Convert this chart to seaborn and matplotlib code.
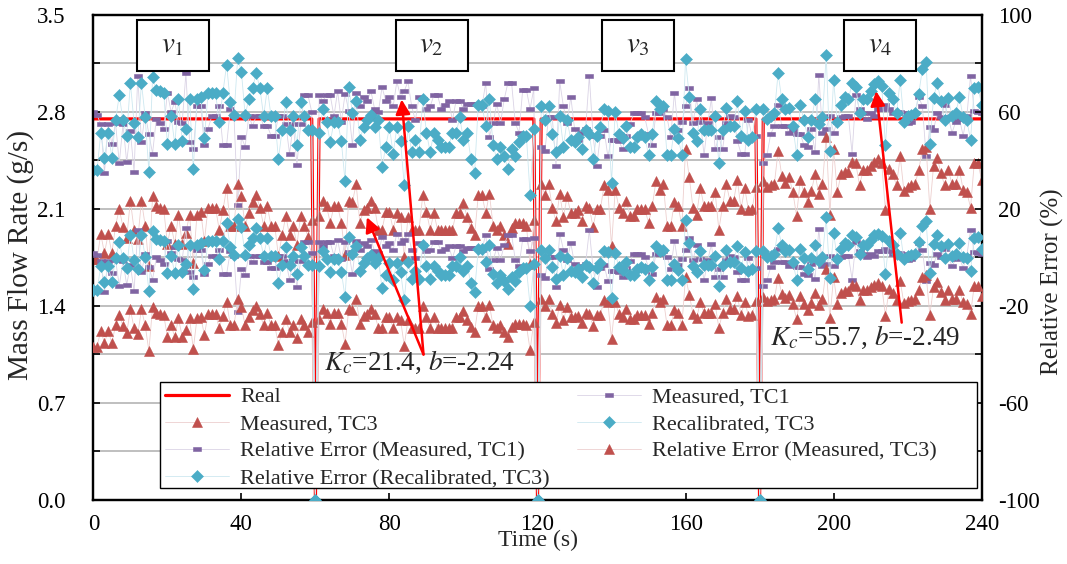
import numpy as np
import matplotlib
matplotlib.use("Agg")
import matplotlib.pyplot as plt
from matplotlib.patches import Rectangle
from matplotlib.ticker import MultipleLocator, FormatStrFormatter
import seaborn as sns

# ── Style ──────────────────────────────────────────────
sns.set_style("white")
plt.rcParams.update({
    "font.family": ["Liberation Serif", "DejaVu Serif"],
    "mathtext.fontset": "stix",
    "font.size": 16,
    "axes.unicode_minus": False,
})

RED = "#FF0000"
TC1_COLOR = "#8064A2"
TC3_COLOR = "#C0504D"
REC_COLOR = "#4BACC6"
TC1_LINE = "#DAD3E5"
TC3_LINE = "#EDCFCE"
REC_LINE = "#CDE8F0"

# ── Data (1 s samples, flow stops at 60/120/180 s) ─────
TIME_END = 240
REAL_RATE = 2.75          # g/s
STOP_TIMES = [60, 120, 180]

measured_tc1 = [
    [2.80, 2.78, 2.71, 2.36, 2.71, 2.57, 2.72, 2.43, 2.71, 2.44,
     2.66, 2.37, 3.06, 2.58, 2.79, 2.64, 2.50, 2.75, 2.72, 2.68,
     2.94, 2.80, 2.87, 2.73, 2.72, 3.08, 2.58, 2.53, 2.84, 2.84,
     2.56, 2.68, 2.77, 2.77, 2.84, 2.56, 2.56, 2.82, 2.77, 2.13,
     2.62, 2.55, 2.77, 2.70, 2.77, 2.77, 2.70, 2.70, 2.63, 2.63,
     2.77, 2.77, 2.71, 2.50, 2.71, 2.42, 2.71, 2.92, 2.92, 2.80],
    [2.92, 2.88, 2.92, 2.92, 2.77, 2.95, 2.73, 2.93, 2.81, 2.56,
     2.94, 2.84, 2.91, 2.88, 2.95, 2.82, 2.80, 2.98, 2.88, 2.91,
     2.84, 3.02, 2.91, 2.95, 3.02, 2.84, 2.74, 2.91, 2.89, 2.82,
     2.84, 2.92, 2.92, 2.82, 2.85, 2.88, 2.74, 2.88, 2.88, 2.82,
     2.86, 2.86, 2.86, 2.86, 2.84, 3.01, 2.62, 2.72, 2.86, 2.72,
     2.89, 3.01, 3.01, 2.72, 2.65, 2.96, 2.96, 2.82, 2.97],
    [2.55, 2.52, 2.76, 2.76, 2.41, 3.02, 2.84, 2.72, 2.91, 2.68,
     2.60, 2.65, 2.68, 3.06, 2.63, 2.41, 2.63, 2.67, 2.48, 2.60,
     2.60, 2.59, 2.53, 2.63, 2.71, 2.79, 2.79, 2.79, 2.76, 2.64,
     2.56, 2.79, 2.79, 2.82, 2.76, 2.62, 2.94, 2.67, 2.73, 2.84,
     2.97, 2.72, 2.89, 2.73, 2.49, 2.72, 2.90, 2.53, 2.62, 2.53,
     2.72, 2.77, 2.76, 2.59, 2.50, 2.50, 2.74, 2.62, 2.63],
    [2.43, 2.49, 2.64, 2.70, 2.85, 2.70, 2.70, 2.65, 2.67, 2.64,
     2.64, 2.56, 2.55, 2.68, 2.51, 3.07, 2.65, 2.68, 2.77, 2.65,
     2.73, 2.76, 2.77, 2.77, 2.50, 2.92, 2.82, 2.79, 2.75, 2.79,
     2.77, 2.82, 2.82, 2.85, 2.82, 2.79, 2.79, 2.80, 2.79, 2.72,
     2.73, 2.79, 2.91, 2.84, 2.48, 2.69, 2.67, 2.79, 2.76, 2.85,
     2.76, 2.65, 2.73, 2.75, 2.63, 2.77, 3.06, 2.81, 2.80, 2.79],
]

measured_tc3 = [
    [1.74, 1.74, 1.92, 1.78, 1.92, 1.78, 1.98, 2.10, 1.97, 1.89,
     2.16, 1.95, 1.88, 2.16, 1.98, 1.69, 2.19, 2.12, 2.11, 2.10,
     1.85, 1.98, 1.85, 2.06, 1.85, 1.93, 2.06, 1.71, 2.06, 2.08,
     1.87, 2.11, 2.11, 2.11, 1.95, 2.09, 2.25, 1.98, 1.98, 2.28,
     2.19, 1.98, 2.07, 2.15, 2.20, 2.11, 1.98, 2.12, 1.98, 1.98,
     1.76, 1.91, 2.05, 1.91, 1.98, 1.84, 2.05, 1.98, 1.90, 2.02],
    [2.05, 2.16, 2.12, 2.00, 2.12, 2.12, 2.00, 1.77, 2.16, 2.15,
     2.28, 2.00, 2.09, 2.11, 2.16, 2.11, 1.95, 1.95, 2.08, 2.08,
     1.95, 2.07, 2.04, 1.75, 2.04, 1.95, 1.95, 1.95, 2.20, 2.08,
     1.95, 2.07, 1.95, 1.95, 1.95, 1.95, 1.95, 2.07, 2.07, 2.14,
     2.04, 1.96, 1.91, 2.20, 2.20, 2.07, 2.21, 1.98, 1.95, 1.98,
     1.91, 1.85, 1.96, 2.00, 2.00, 2.00, 1.98, 1.70, 2.02],
    [2.28, 2.20, 2.28, 2.11, 2.01, 2.21, 2.04, 2.19, 2.07, 2.07,
     2.09, 2.01, 2.12, 2.11, 1.97, 2.10, 2.10, 2.27, 2.24, 1.83,
     2.24, 2.11, 2.07, 2.16, 2.05, 2.05, 2.10, 2.10, 2.10, 2.00,
     2.12, 2.30, 2.24, 2.28, 1.98, 1.98, 2.15, 2.12, 1.98, 2.53,
     2.33, 2.11, 2.06, 2.25, 2.12, 2.12, 2.12, 2.22, 1.95, 2.12,
     2.28, 2.16, 2.16, 2.31, 2.10, 2.25, 2.09, 2.10, 2.26],
    [2.30, 2.26, 2.27, 2.28, 2.52, 2.34, 2.29, 2.33, 2.22, 2.05,
     2.31, 2.22, 2.15, 2.23, 2.35, 2.21, 2.28, 2.62, 2.06, 2.53,
     2.22, 2.35, 2.37, 2.37, 2.44, 2.43, 2.27, 2.38, 2.38, 2.41,
     2.44, 2.46, 2.43, 2.09, 2.39, 2.35, 2.27, 2.48, 2.23, 2.26,
     2.27, 2.28, 2.38, 2.53, 2.55, 2.10, 2.41, 2.47, 2.36, 2.27,
     2.38, 2.28, 2.28, 2.38, 2.24, 2.22, 2.11, 2.43, 2.43, 2.31],
]

recalibrated_tc3 = [
    [2.38, 2.38, 2.65, 2.47, 2.65, 2.47, 2.74, 2.92, 2.74, 2.63,
     3.01, 2.72, 2.62, 3.01, 2.76, 2.37, 3.05, 2.96, 2.95, 2.94,
     2.57, 2.77, 2.57, 2.89, 2.59, 2.68, 2.89, 2.39, 2.89, 2.91,
     2.61, 2.94, 2.94, 2.94, 2.73, 2.94, 3.14, 2.87, 2.78, 3.19,
     3.09, 2.78, 2.89, 2.97, 3.08, 2.97, 2.77, 2.97, 2.77, 2.77,
     2.46, 2.67, 2.87, 2.67, 2.77, 2.56, 2.87, 2.77, 2.67, 2.67],
    [2.65, 2.82, 2.73, 2.58, 2.73, 2.73, 2.59, 2.30, 2.98, 2.79,
     2.88, 2.60, 2.69, 2.74, 2.78, 2.69, 2.74, 2.40, 2.55, 2.69,
     2.50, 2.69, 2.59, 2.27, 2.70, 2.51, 2.60, 2.51, 2.89, 2.65,
     2.51, 2.65, 2.60, 2.55, 2.55, 2.55, 2.65, 2.65, 2.76, 2.60,
     2.65, 2.46, 2.36, 2.85, 2.85, 2.70, 2.89, 2.56, 2.46, 2.55,
     2.48, 2.39, 2.53, 2.48, 2.58, 2.63, 2.63, 2.20, 2.68],
    [2.84, 2.74, 2.84, 2.64, 2.51, 2.77, 2.55, 2.74, 2.60, 2.58,
     2.62, 2.53, 2.67, 2.64, 2.46, 2.63, 2.69, 2.82, 2.81, 2.29,
     2.80, 2.64, 2.61, 2.70, 2.55, 2.55, 2.62, 2.64, 2.62, 2.49,
     2.64, 2.88, 2.82, 2.84, 2.49, 2.49, 2.68, 2.61, 2.49, 3.18,
     2.91, 2.65, 2.59, 2.82, 2.67, 2.67, 2.67, 2.77, 2.43, 2.67,
     2.83, 2.70, 2.70, 2.88, 2.63, 2.81, 2.60, 2.62, 2.82],
    [2.82, 2.75, 2.77, 2.79, 3.08, 2.89, 2.82, 2.83, 2.70, 2.49,
     2.85, 2.74, 2.62, 2.74, 2.89, 2.71, 2.76, 3.21, 2.52, 3.03,
     2.73, 2.85, 2.91, 2.89, 3.01, 2.98, 2.79, 2.89, 2.89, 2.95,
     3.00, 3.02, 2.99, 2.56, 2.94, 2.89, 2.79, 3.03, 2.73, 2.77,
     2.78, 2.79, 2.93, 3.11, 3.16, 2.57, 2.90, 3.01, 2.88, 2.74,
     2.90, 2.77, 2.79, 2.91, 2.76, 2.74, 2.60, 2.97, 2.98, 2.85],
]

speed_labels = [r"$\mathit{v}_{\mathit{1}}$", r"$\mathit{v}_{\mathit{2}}$",
                r"$\mathit{v}_{\mathit{3}}$", r"$\mathit{v}_{\mathit{4}}$"]
speed_label_t = [21.5, 91.4, 147.1, 212.6]

calib_texts = [r"$K_c$=21.4, $b$=-2.24", r"$K_c$=55.7, $b$=-2.49"]


def join_segments(segments):
    """Stitch the four runs together with the zero-flow sample between them."""
    out = []
    for i, seg in enumerate(segments):
        if i:
            out.append(0.0)
        out.extend(seg)
    return np.array(out)


def relative_error(measured, real):
    safe = np.where(real > 0, real, 1.0)
    return np.where(real > 0, (measured - real) / safe * 100.0, -100.0)


t = np.arange(TIME_END + 1)
real = np.full(t.shape, REAL_RATE)
real[STOP_TIMES] = 0.0
m_tc1 = join_segments(measured_tc1)
m_tc3 = join_segments(measured_tc3)
r_tc3 = join_segments(recalibrated_tc3)

# ── Figure ─────────────────────────────────────────────
fig = plt.figure(figsize=(10.67, 5.64), dpi=100)
ax = fig.add_axes([0.0875, 0.1135, 0.8325, 0.86])
ax2 = ax.twinx()

DASH = [(-1, -0.42), (1, -0.42), (1, 0.42), (-1, 0.42), (-1, -0.42)]
styles = {
    "tc1": dict(marker=DASH, markersize=5.5, line=TC1_LINE, color=TC1_COLOR),
    "tc3": dict(marker="^", markersize=7.5, line=TC3_LINE, color=TC3_COLOR),
    "rec": dict(marker="D", markersize=6, line=REC_LINE, color=REC_COLOR),
}


def draw(axis, y, key, label, z):
    st = styles[key]
    sns.lineplot(x=t, y=y, ax=axis, color=st["line"], lw=0.6, sort=False,
                 errorbar=None, marker=st["marker"], markersize=st["markersize"],
                 markerfacecolor=st["color"], markeredgecolor=st["color"],
                 markeredgewidth=0.4, label=label, legend=False, zorder=z)


sns.lineplot(x=t, y=real, ax=ax, color=RED, lw=2.3, sort=False, errorbar=None,
             label="Real", legend=False, zorder=2)
draw(ax, m_tc1, "tc1", "Measured, TC1", 3)
draw(ax, m_tc3, "tc3", "Measured, TC3", 3)
draw(ax, r_tc3, "rec", "Recalibrated, TC3", 4)
draw(ax2, relative_error(m_tc1, real), "tc1", "Relative Error (Measured, TC1)", 3)
draw(ax2, relative_error(m_tc3, real), "tc3", "Relative Error (Measured, TC3)", 3)
draw(ax2, relative_error(r_tc3, real), "rec", "Relative Error (Recalibrated, TC3)", 4)

# ── Axes ───────────────────────────────────────────────
ax.set_xlim(0, TIME_END)
ax.set_xticks(range(0, TIME_END + 1, 40))
ax.set_ylim(0, 3.5)
ax.yaxis.set_major_locator(MultipleLocator(0.7))
ax.yaxis.set_minor_locator(MultipleLocator(0.35))
ax.yaxis.set_major_formatter(FormatStrFormatter("%.1f"))
ax.grid(which="both", axis="y", color="#BFBFBF", lw=1.4)
ax.grid(False, axis="x")
ax.set_axisbelow(True)

ax2.set_ylim(-100, 100)
ax2.set_yticks([-100, -60, -20, 20, 60, 100])
ax2.set_yticks(range(-100, 101, 20), minor=True)
ax2.grid(False)

for a in (ax, ax2):
    for sp in a.spines.values():
        sp.set_color("black")
        sp.set_linewidth(1.6)

ax.tick_params(axis="x", which="both", direction="in", bottom=True, top=False,
               length=5, width=1.2, labelsize=16.5, pad=10, colors="black")
ax.tick_params(axis="y", which="both", direction="in", left=True, right=False,
               length=5, width=1.2, labelsize=16.5, pad=20, colors="black")
ax2.tick_params(axis="y", which="both", direction="in", right=True, left=False,
                length=5, width=1.2, labelsize=16.5, pad=12, colors="black")

ax.set_xlabel("Time (s)", fontsize=17)
ax.xaxis.set_label_coords(0.5, -0.062)
ax.set_ylabel("Mass Flow Rate (g/s)", fontsize=21, va="center", ha="center")
ax.yaxis.set_label_coords(-0.082, 0.505)
ax2.set_ylabel("Relative Error (%)", fontsize=18, rotation=90, va="center", ha="center")
ax2.yaxis.set_label_coords(1.08, 0.45)

# ── Speed boxes and calibration annotations ────────────
box_w, box_h, box_y = 19.4, 0.368, 3.28
for lab, tc in zip(speed_labels, speed_label_t):
    ax2.add_patch(Rectangle((tc - box_w / 2, box_y - box_h / 2), box_w, box_h,
                            transform=ax.transData, fc="white", ec="black",
                            lw=1.5, zorder=6))
    ax2.text(tc, box_y, lab, transform=ax.transData, ha="center", va="center",
             fontsize=21, zorder=7)

arrow_kw = dict(arrowstyle="-|>", color=RED, lw=1.8, mutation_scale=22,
                shrinkA=0, shrinkB=0)
tail1 = (89.2, 1.05)
for tip in [(83.3, 2.89), (73.9, 2.04)]:
    ax2.annotate("", xy=tip, xytext=tail1, xycoords=ax.transData,
                 textcoords=ax.transData, arrowprops=arrow_kw, zorder=8)
ax2.annotate("", xy=(211.5, 2.95), xytext=(218.4, 1.28), xycoords=ax.transData,
             textcoords=ax.transData, arrowprops=arrow_kw, zorder=8)
ax2.text(88.1, 0.99, calib_texts[0], transform=ax.transData, ha="center",
         va="center", fontsize=19.5, zorder=8)
ax2.text(208.5, 1.17, calib_texts[1], transform=ax.transData, ha="center",
         va="center", fontsize=19.5, zorder=8)

# ── Legend (frame drawn separately so it spans the reference width) ──
ax2.add_patch(Rectangle((0.075, 0.025), 0.92, 0.218, transform=ax.transAxes,
                        fc="white", ec="black", lw=1.0, zorder=9))
h1, l1 = ax.get_legend_handles_labels()
h2, l2 = ax2.get_legend_handles_labels()
lookup = dict(zip(l1 + l2, h1 + h2))
order = ["Real", "Measured, TC3", "Relative Error (Measured, TC1)",
         "Relative Error (Recalibrated, TC3)", "Measured, TC1",
         "Recalibrated, TC3", "Relative Error (Measured, TC3)"]
leg = ax2.legend([lookup[k] for k in order], order, ncol=2, loc="upper left",
                 bbox_to_anchor=(0.078, 0.238), borderaxespad=0, frameon=False,
                 handlelength=2.9, labelspacing=0.3, borderpad=0.1,
                 handletextpad=0.5, columnspacing=1.2, fontsize=16)
leg.set_zorder(10)

fig.savefig("out.png", dpi=100)
